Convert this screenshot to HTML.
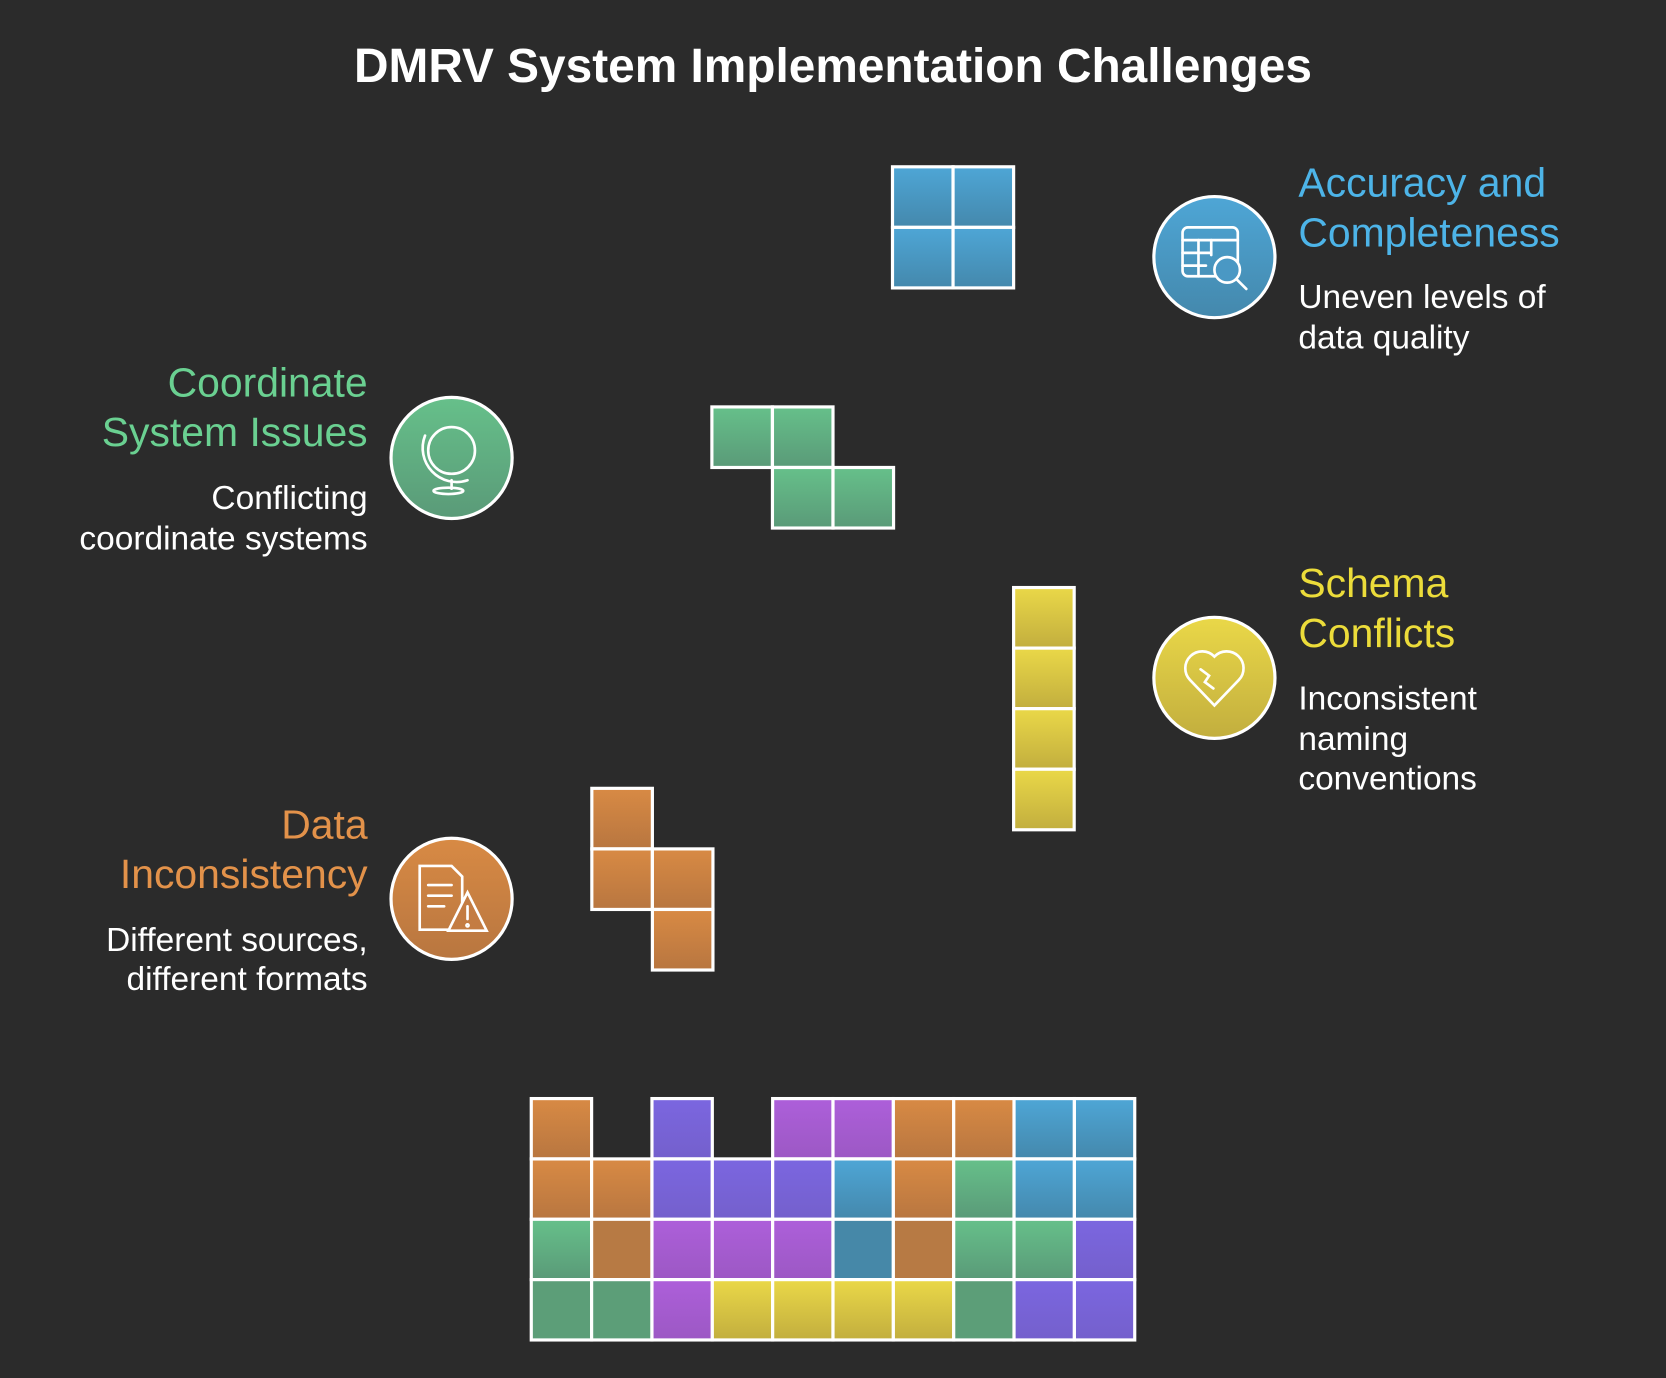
<!DOCTYPE html>
<html><head><meta charset="utf-8"><style>html,body{margin:0;padding:0;background:#2b2b2b;}svg{display:block}</style></head>
<body>
<svg width="1666" height="1378" viewBox="0 0 1568 1297" xmlns="http://www.w3.org/2000/svg" font-family="Liberation Sans, sans-serif">
<defs>
<linearGradient id="gO" x1="0" y1="0" x2="0" y2="1"><stop offset="0" stop-color="#d88a44"/><stop offset="1" stop-color="#b87640"/></linearGradient>
<linearGradient id="gP" x1="0" y1="0" x2="0" y2="1"><stop offset="0" stop-color="#7b66e0"/><stop offset="1" stop-color="#7460cc"/></linearGradient>
<linearGradient id="gM" x1="0" y1="0" x2="0" y2="1"><stop offset="0" stop-color="#ad5fda"/><stop offset="1" stop-color="#9c58c4"/></linearGradient>
<linearGradient id="gB" x1="0" y1="0" x2="0" y2="1"><stop offset="0" stop-color="#4ea6d6"/><stop offset="1" stop-color="#4488ac"/></linearGradient>
<linearGradient id="gG" x1="0" y1="0" x2="0" y2="1"><stop offset="0" stop-color="#66c08a"/><stop offset="1" stop-color="#5a9a78"/></linearGradient>
<linearGradient id="gY" x1="0" y1="0" x2="0" y2="1"><stop offset="0" stop-color="#ead848"/><stop offset="1" stop-color="#c2ae3e"/></linearGradient>
</defs>
<text x="784" y="77" text-anchor="middle" fill="#fff" font-size="45" font-weight="bold">DMRV System Implementation Challenges</text>

<g stroke="#fff" stroke-width="3">
<rect x="840" y="157" width="57" height="57" fill="url(#gB)"/><rect x="897" y="157" width="57" height="57" fill="url(#gB)"/>
<rect x="840" y="214" width="57" height="57" fill="url(#gB)"/><rect x="897" y="214" width="57" height="57" fill="url(#gB)"/>
<rect x="670" y="383" width="57" height="57" fill="url(#gG)"/><rect x="727" y="383" width="57" height="57" fill="url(#gG)"/>
<rect x="727" y="440" width="57" height="57" fill="url(#gG)"/><rect x="784" y="440" width="57" height="57" fill="url(#gG)"/>
<rect x="954" y="553" width="57" height="57" fill="url(#gY)"/><rect x="954" y="610" width="57" height="57" fill="url(#gY)"/>
<rect x="954" y="667" width="57" height="57" fill="url(#gY)"/><rect x="954" y="724" width="57" height="57" fill="url(#gY)"/>
<rect x="557" y="742" width="57" height="57" fill="url(#gO)"/><rect x="557" y="799" width="57" height="57" fill="url(#gO)"/>
<rect x="614" y="799" width="57" height="57" fill="url(#gO)"/><rect x="614" y="856" width="57" height="57" fill="url(#gO)"/>
</g>

<g stroke="#fff" stroke-width="3">
<rect x="500" y="1034" width="56.8" height="56.8" fill="url(#gO)"/>
<rect x="613.6" y="1034" width="56.8" height="56.8" fill="url(#gP)"/>
<rect x="727.2" y="1034" width="56.8" height="56.8" fill="url(#gM)"/>
<rect x="784" y="1034" width="56.8" height="56.8" fill="url(#gM)"/>
<rect x="840.8" y="1034" width="56.8" height="56.8" fill="url(#gO)"/>
<rect x="897.6" y="1034" width="56.8" height="56.8" fill="url(#gO)"/>
<rect x="954.4" y="1034" width="56.8" height="56.8" fill="url(#gB)"/>
<rect x="1011.2" y="1034" width="56.8" height="56.8" fill="url(#gB)"/>

<rect x="500" y="1090.8" width="56.8" height="56.8" fill="url(#gO)"/>
<rect x="556.8" y="1090.8" width="56.8" height="56.8" fill="url(#gO)"/>
<rect x="613.6" y="1090.8" width="56.8" height="56.8" fill="url(#gP)"/>
<rect x="670.4" y="1090.8" width="56.8" height="56.8" fill="url(#gP)"/>
<rect x="727.2" y="1090.8" width="56.8" height="56.8" fill="url(#gP)"/>
<rect x="784" y="1090.8" width="56.8" height="56.8" fill="url(#gB)"/>
<rect x="840.8" y="1090.8" width="56.8" height="56.8" fill="url(#gO)"/>
<rect x="897.6" y="1090.8" width="56.8" height="56.8" fill="url(#gG)"/>
<rect x="954.4" y="1090.8" width="56.8" height="56.8" fill="url(#gB)"/>
<rect x="1011.2" y="1090.8" width="56.8" height="56.8" fill="url(#gB)"/>

<rect x="500" y="1147.6" width="56.8" height="56.8" fill="url(#gG)"/>
<rect x="556.8" y="1147.6" width="56.8" height="56.8" fill="#b77a44"/>
<rect x="613.6" y="1147.6" width="56.8" height="56.8" fill="url(#gM)"/>
<rect x="670.4" y="1147.6" width="56.8" height="56.8" fill="url(#gM)"/>
<rect x="727.2" y="1147.6" width="56.8" height="56.8" fill="url(#gM)"/>
<rect x="784" y="1147.6" width="56.8" height="56.8" fill="#4688a8"/>
<rect x="840.8" y="1147.6" width="56.8" height="56.8" fill="#b77a44"/>
<rect x="897.6" y="1147.6" width="56.8" height="56.8" fill="url(#gG)"/>
<rect x="954.4" y="1147.6" width="56.8" height="56.8" fill="url(#gG)"/>
<rect x="1011.2" y="1147.6" width="56.8" height="56.8" fill="url(#gP)"/>

<rect x="500" y="1204.4" width="56.8" height="56.8" fill="#5c9e78"/>
<rect x="556.8" y="1204.4" width="56.8" height="56.8" fill="#5c9e78"/>
<rect x="613.6" y="1204.4" width="56.8" height="56.8" fill="url(#gM)"/>
<rect x="670.4" y="1204.4" width="56.8" height="56.8" fill="url(#gY)"/>
<rect x="727.2" y="1204.4" width="56.8" height="56.8" fill="url(#gY)"/>
<rect x="784" y="1204.4" width="56.8" height="56.8" fill="url(#gY)"/>
<rect x="840.8" y="1204.4" width="56.8" height="56.8" fill="url(#gY)"/>
<rect x="897.6" y="1204.4" width="56.8" height="56.8" fill="#5c9e78"/>
<rect x="954.4" y="1204.4" width="56.8" height="56.8" fill="url(#gP)"/>
<rect x="1011.2" y="1204.4" width="56.8" height="56.8" fill="url(#gP)"/>
</g>

<g stroke="#fff" stroke-width="3">
<circle cx="1143" cy="242" r="57" fill="url(#gB)"/>
<circle cx="425" cy="431" r="57" fill="url(#gG)"/>
<circle cx="1143" cy="638" r="57" fill="url(#gY)"/>
<circle cx="425" cy="846" r="57" fill="url(#gO)"/>
</g>
<g stroke="#fff" stroke-width="2.5" fill="none" stroke-linecap="round">
<rect x="1113" y="214" width="52" height="46" rx="5"/><line x1="1113" y1="226" x2="1165" y2="226"/><line x1="1113" y1="238" x2="1140" y2="238"/><line x1="1113" y1="250" x2="1135" y2="250"/><line x1="1128" y1="226" x2="1128" y2="260"/><line x1="1140" y1="226" x2="1140" y2="240"/>
<circle cx="1155" cy="254" r="12" fill="#4a98c4"/><line x1="1164" y1="263" x2="1173" y2="272"/>
<circle cx="425" cy="424" r="22"/><path d="M400 410 A32 32 0 0 0 440 452"/><line x1="425" y1="452" x2="425" y2="460"/><ellipse cx="422" cy="462" rx="14" ry="3"/>
<path d="M1143 664 L1120 640 A14 14 0 0 1 1143 618 A14 14 0 0 1 1166 640 Z"/><path d="M1130 630 l8 6 -4 6 8 6"/>
<path d="M395 815 h30 l10 10 v50 h-40 z"/><line x1="403" y1="833" x2="425" y2="833"/><line x1="403" y1="843" x2="425" y2="843"/><line x1="403" y1="853" x2="418" y2="853"/>
<path d="M440 840 l18 36 h-36 z" fill="#c47c42"/><line x1="440" y1="853" x2="440" y2="865"/><circle cx="440" cy="871" r="1"/>
</g>

<g font-size="38.5">
<text x="1222" y="185" fill="#4db4e8">Accuracy and</text>
<text x="1222" y="232" fill="#4db4e8">Completeness</text>
<text x="346" y="373" fill="#6ad091" text-anchor="end">Coordinate</text>
<text x="346" y="420" fill="#6ad091" text-anchor="end">System Issues</text>
<text x="1222" y="562" fill="#ecdc3a">Schema</text>
<text x="1222" y="609" fill="#ecdc3a">Conflicts</text>
<text x="346" y="789" fill="#e3924a" text-anchor="end">Data</text>
<text x="346" y="836" fill="#e3924a" text-anchor="end">Inconsistency</text>
</g>
<g font-size="31.5" fill="#fff">
<text x="1222" y="290">Uneven levels of</text>
<text x="1222" y="328">data quality</text>
<text x="346" y="479" text-anchor="end">Conflicting</text>
<text x="346" y="517" text-anchor="end">coordinate systems</text>
<text x="1222" y="668">Inconsistent</text>
<text x="1222" y="706">naming</text>
<text x="1222" y="743">conventions</text>
<text x="346" y="895" text-anchor="end">Different sources,</text>
<text x="346" y="932" text-anchor="end">different formats</text>
</g>
</svg>
</body></html>
